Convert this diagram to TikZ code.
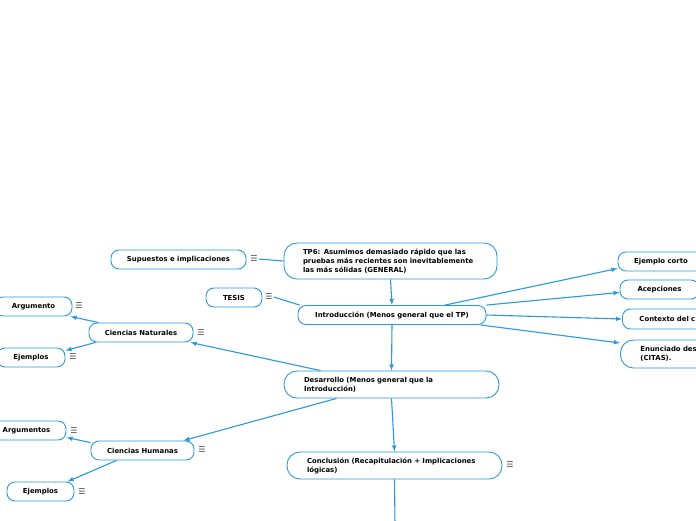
\documentclass[tikz,border=0pt]{standalone}
\usepackage{fontspec}
\setmainfont{DejaVu Sans}
\usepackage{xcolor}
\usepackage{tikz}
\usetikzlibrary{calc, positioning}

\definecolor{mmblue}{RGB}{41,152,222}
\definecolor{mmgray}{RGB}{70,70,70}
\newcommand{\mmtext}{\fontsize{6.9}{9}\selectfont\bfseries}

\begin{document}
\begin{tikzpicture}[>=latex, x=1pt, y=-1pt,
    topic/.style={draw=mmblue, line width=0.9pt, rounded corners=8pt, fill=white,
        font=\mmtext, text=black, inner sep=0pt, minimum height=19pt},
    bigtopic/.style={topic, rounded corners=13pt, align=left, inner xsep=19pt},
    link/.style={->, draw=mmblue, line width=1.1pt},
    menu/.style={text=mmgray, font=\fontsize{8}{8}\selectfont, inner sep=0pt}]
    \useasboundingbox (0,0) rectangle (696,520);
    \clip (0,0) rectangle (696,520);

    % Tema central y su nota
    \node[bigtopic, minimum width=213pt, minimum height=36pt, text width=175pt] (tp6) at (390.5,261)
        {TP6: Asumimos demasiado rápido que las\\pruebas más recientes son inevitablemente\\las más sólidas (GENERAL)};
    \node[topic, minimum width=135pt] (supuestos) at (178.5,259.5) {Supuestos e implicaciones};
    \node[menu] (supmenu) at (254,259) {☰};

    % Introducción, TESIS y sus ramas a la derecha
    \node[topic, minimum width=188pt] (intro) at (392,315) {Introducción (Menos general que el TP)};
    \node[topic, minimum width=56pt] (tesis) at (234,297.5) {TESIS};
    \node[menu] (tesismenu) at (269,297) {☰};
    \node[topic, minimum width=86pt] (ejcorto) at (661,261.5) {Ejemplo corto};
    \node[topic, minimum width=79pt] (acep) at (659.5,289.5) {Acepciones};
    \node[topic, anchor=west, minimum height=20pt, text width=100pt, align=left, inner xsep=17pt] (contexto) at (622,319) {Contexto del c};
    \node[bigtopic, anchor=west, minimum height=28pt, text width=100pt, inner xsep=20pt] (enun) at (620,354) {Enunciado des\\(CITAS).};

    % Desarrollo y Conclusión
    \node[bigtopic, minimum width=215pt, minimum height=27pt, text width=175pt] (desarrollo) at (391.5,384.5)
        {Desarrollo (Menos general que la\\Introducción)};
    \node[bigtopic, minimum width=215pt, minimum height=27pt, text width=175pt] (concl) at (394.5,465.5)
        {Conclusión (Recapitulación + Implicaciones\\lógicas)};
    \node[menu] (conclmenu) at (510,465) {☰};
    \coordinate (fin) at (395,525);

    % Ciencias Naturales
    \node[topic, minimum width=104pt] (cn) at (141,332.5) {Ciencias Naturales};
    \node[menu] (cnmenu) at (201,333) {☰};
    \node[topic, minimum width=77pt] (arg) at (33.5,306.5) {Argumento};
    \node[menu] (argmenu) at (79,306) {☰};
    \node[topic, minimum width=68pt] (ejn) at (31,357.5) {Ejemplos};
    \node[menu] (ejnmenu) at (73,357) {☰};

    % Ciencias Humanas
    \node[topic, minimum width=103pt] (ch) at (142.5,450.5) {Ciencias Humanas};
    \node[menu] (chmenu) at (202,450) {☰};
    \node[topic, minimum width=79pt] (args) at (26.5,430.5) {Argumentos};
    \node[menu] (argsmenu) at (74,431) {☰};
    \node[topic, minimum width=67pt] (ejh) at (40.5,491.5) {Ejemplos};
    \node[menu] (ejhmenu) at (82,492) {☰};

    % Conectores
    \draw[link] (tp6.south) -- (intro.north);
    \draw[mmblue, line width=1.1pt] (tp6.west) -- ([xshift=1pt]supmenu.east);
    \draw[mmblue, line width=1.1pt] ([xshift=2pt]intro.north west) -- ([xshift=1pt]tesismenu.east);
    \draw[link] ([xshift=53pt]intro.north) -- ([yshift=-7pt]ejcorto.west);
    \draw[link] (intro.north east) -- ([yshift=-3pt]acep.west);
    \draw[link] (intro.east) -- (contexto.west);
    \draw[link] ([xshift=-6pt]intro.south east) -- ([yshift=11pt]enun.west);
    \draw[link] (intro.south) -- (desarrollo.north);
    \draw[link] ([xshift=-71pt]desarrollo.north) -- ([xshift=-3pt]cn.south east);
    \draw[link] ([xshift=-55pt]desarrollo.south) -- ([xshift=-11pt]ch.north east);
    \draw[link] (desarrollo.south) -- (concl.north);
    \draw[mmblue, line width=1.1pt] (concl.south) -- (fin);
    \draw[link] ([xshift=10pt]cn.north west) -- ([xshift=-2pt]arg.south east);
    \draw[link] ([xshift=7pt]cn.south west) -- ([yshift=-3pt]ejn.north east);
    \draw[link] ([yshift=-2pt]ch.north west) -- ([yshift=3pt]args.south east);
    \draw[link] ([xshift=26pt]ch.south west) -- ([xshift=-7pt]ejh.north east);
\end{tikzpicture}
\end{document}
